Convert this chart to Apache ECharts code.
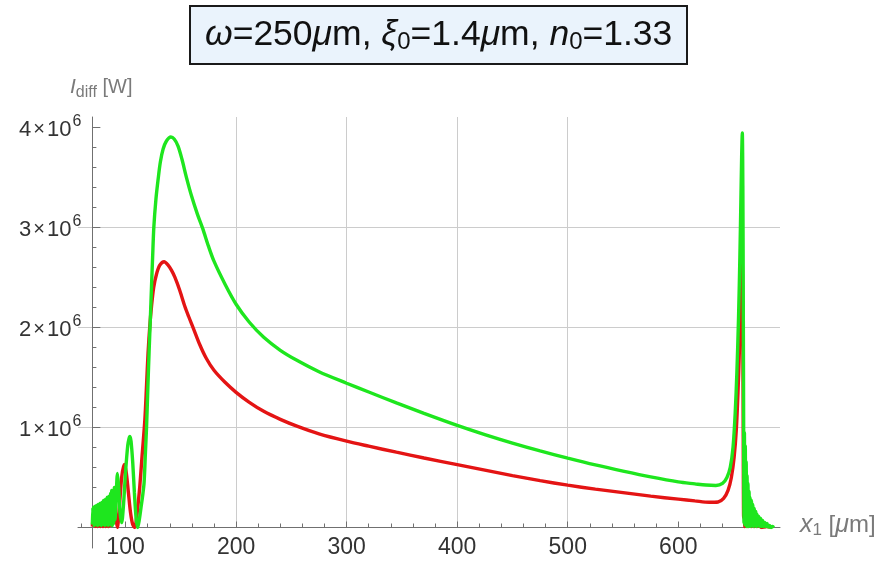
<!DOCTYPE html>
<html><head><meta charset="utf-8">
<script src="https://cdn.jsdelivr.net/npm/echarts@6/dist/echarts.min.js"></script>
<style>html,body{margin:0;padding:0;background:#fff}#c{width:882px;height:563px}</style>
</head><body><div id="c"></div>
<script>
// x1 in micrometres, I_diff in units of 10^6 W
const redX = [70.0,70.6,71.2,71.8,72.4,73.0,73.6,74.2,74.8,75.4,76.0,76.6,77.2,77.8,78.4,79.0,79.6,80.2,80.8,81.4,82.0,82.6,83.2,83.8,84.4,85.0,85.7,86.4,87.1,88.0,88.8,89.8,91.0,92.6,94.5,96.5,98.7,100.5,102.5,104.5,106.5,108.4,110.0,111.5,112.9,115.0,117.5,119.0,120.4,122.0,123.5,125.5,128.0,131.0,134.9,138.5,141.5,144.6,149.0,153.6,157.0,161.0,167.0,173.0,180.0,190.0,200.0,212.0,225.0,240.0,255.0,275.0,300.0,320.0,345.0,370.0,400.0,425.0,450.0,475.0,500.0,525.0,550.0,575.0,600.0,615.0,628.0,636.0,641.0,645.0,648.0,650.5,652.5,654.0,655.2,656.2,657.0,657.6,658.1,658.6,659.1,659.6,660.1,660.6,661.1,661.8,662.5,663.3,664.2,665.2,666.3,667.5,668.8,670.2,671.6,673.2,675.0,680.0,685.0];
const redY = [0.01,0.10,0.02,0.11,0.01,0.12,0.02,0.12,0.01,0.13,0.02,0.14,0.01,0.15,0.02,0.16,0.01,0.17,0.02,0.18,0.01,0.20,0.02,0.21,0.01,0.22,0.02,0.25,0.02,0.28,0.05,0.30,0.12,0.0,0.22,0.50,0.63,0.56,0.36,0.15,0.03,0.0,0.10,0.25,0.41,0.72,1.08,1.42,1.75,2.02,2.21,2.40,2.53,2.62,2.655,2.62,2.57,2.50,2.37,2.21,2.11,2.00,1.83,1.69,1.57,1.45,1.35,1.25,1.16,1.08,1.012,0.935,0.862,0.812,0.752,0.694,0.628,0.573,0.518,0.468,0.423,0.383,0.348,0.313,0.283,0.266,0.252,0.255,0.29,0.37,0.50,0.70,0.98,1.35,1.75,2.20,2.60,2.80,2.50,1.40,0.10,0.50,0.01,0.45,0.02,0.35,0.01,0.25,0.02,0.18,0.01,0.12,0.01,0.08,0.01,0.05,0.0,0.01,0.0];
const greenX = [70.0,70.4,70.8,71.2,71.6,72.0,72.4,72.8,73.2,73.6,74.0,74.4,74.8,75.2,75.6,76.0,76.4,76.8,77.2,77.6,78.0,78.4,78.8,79.2,79.6,80.0,80.4,80.8,81.2,81.6,82.0,82.4,82.8,83.2,83.6,84.0,84.4,84.8,85.2,85.6,86.0,86.5,87.0,87.5,88.0,88.6,89.2,89.9,90.6,91.5,92.7,93.8,95.0,96.5,98.0,100.0,102.0,103.2,104.0,105.0,106.5,108.0,109.5,111.0,112.5,114.0,115.5,116.8,118.0,119.0,120.2,121.3,122.5,123.5,124.5,125.6,127.5,129.5,131.5,134.0,137.0,141.0,144.0,147.5,151.0,155.0,160.0,165.0,170.0,175.0,180.0,190.0,200.0,212.0,225.0,240.0,255.0,275.0,300.0,320.0,345.0,370.0,400.0,425.0,450.0,475.0,500.0,525.0,550.0,575.0,600.0,615.0,625.0,634.0,640.0,644.0,647.0,649.5,651.5,653.0,654.5,655.7,656.6,657.3,657.9,658.4,658.8,659.1,659.4,659.8,660.2,660.6,661.0,661.4,661.8,662.2,662.6,663.0,663.5,664.0,664.5,665.0,665.6,666.2,666.8,667.4,668.0,668.7,669.4,670.1,670.8,671.5,672.2,673.0,673.8,674.6,675.4,676.3,677.2,678.2,679.2,680.3,681.4,682.5,683.6,685.0,686.5];
const greenY = [0.03,0.20,0.06,0.18,0.02,0.21,0.05,0.17,0.03,0.22,0.06,0.19,0.02,0.23,0.05,0.20,0.03,0.24,0.06,0.21,0.02,0.25,0.05,0.23,0.03,0.27,0.06,0.24,0.02,0.28,0.05,0.26,0.03,0.30,0.06,0.28,0.02,0.31,0.05,0.30,0.03,0.34,0.04,0.37,0.02,0.36,0.04,0.40,0.08,0.30,0.54,0.40,0.15,0.05,0.20,0.55,0.82,0.89,0.91,0.86,0.65,0.35,0.10,0.0,0.08,0.20,0.32,0.45,0.75,1.0,1.40,1.75,2.10,2.41,2.70,3.00,3.28,3.48,3.65,3.78,3.86,3.90,3.88,3.81,3.68,3.50,3.30,3.13,2.98,2.81,2.66,2.43,2.23,2.05,1.90,1.77,1.67,1.556,1.441,1.353,1.245,1.14,1.02,0.928,0.843,0.765,0.693,0.625,0.563,0.505,0.455,0.436,0.424,0.42,0.44,0.50,0.60,0.80,1.15,1.55,2.10,2.70,3.25,3.70,3.94,3.40,2.20,1.10,0.05,0.95,0.03,0.82,0.02,0.66,0.01,0.52,0.02,0.44,0.01,0.36,0.02,0.30,0.01,0.27,0.02,0.23,0.01,0.19,0.02,0.16,0.01,0.13,0.02,0.11,0.01,0.09,0.01,0.07,0.01,0.05,0.01,0.04,0.005,0.02,0.0,0.01,0.0];

const xMajorTicks = [100,200,300,400,500,600];
const xMinorTicks = [60,80,120,140,160,180,220,240,260,280,320,340,360,380,420,440,460,480,520,540,560,580,620,640,660,680];
const yMajorTicks = [0,1,2,3,4];
const yLabelTicks = [1,2,3,4];
const yMinorTicks = [0.2,0.4,0.6,0.8,1.2,1.4,1.6,1.8,2.2,2.4,2.6,2.8,3.2,3.4,3.6,3.8];

const X_MIN = 57, X_MAX = 692, Y_MIN = 0, Y_MAX = 4.1, Y_AXIS_AT = 70;
const GRID_LEFT = 78, GRID_RIGHT = 102, GRID_TOP = 117, GRID_BOTTOM = 35.5, AXIS_EXT_BOTTOM = 15;
const W = 882;
const yOffset = -(Y_AXIS_AT - X_MIN) * (W - GRID_LEFT - GRID_RIGHT) / (X_MAX - X_MIN);

const FONT = 'Liberation Sans, Arial, sans-serif';
const AXIS_COLOR = '#707070';
const GRID_COLOR = '#cccccc';
const NAME_COLOR = '#7a7a7a';

const chart = echarts.init(document.getElementById('c'), null, {renderer: 'canvas'});
const zipXY = (xs, ys) => xs.map((x, i) => [x, ys[i]]);

chart.setOption({
  animation: false,
  backgroundColor: '#ffffff',
  title: [
    {
      text: '{i|ω}=250{i|μ}m, {i|ξ}{s|0}=1.4{i|μ}m, {i|n}{s|0}=1.33',
      left: 190, top: 5,
      padding: [11, 15, 10, 15],
      backgroundColor: '#eaf3fc',
      borderColor: '#1a1a1a', borderWidth: 2,
      textStyle: {
        fontFamily: FONT, fontSize: 35.5, fontWeight: 'normal', color: '#111',
        rich: {
          i: {fontFamily: FONT, fontSize: 35.5, fontStyle: 'italic', color: '#111'},
          s: {fontFamily: FONT, fontSize: 24, color: '#111', padding: [14, 0, 0, 0]}
        }
      }
    },
    {
      text: '{i|I}{s|diff} {n|[W]}',
      left: 70, top: 74, padding: 0,
      textStyle: {
        fontFamily: FONT, fontSize: 20, fontWeight: 'normal', color: NAME_COLOR,
        rich: {
          i: {fontFamily: FONT, fontSize: 21, fontStyle: 'italic', color: NAME_COLOR},
          s: {fontFamily: FONT, fontSize: 16, color: NAME_COLOR, padding: [11, 0, 0, 0]},
          n: {fontFamily: FONT, fontSize: 20, color: NAME_COLOR}
        }
      }
    },
    {
      text: '{i|x}{s|1} [{i|μ}{n|m]}',
      left: 800, top: 511, padding: 0,
      textStyle: {
        fontFamily: FONT, fontSize: 24, fontWeight: 'normal', color: NAME_COLOR,
        rich: {
          i: {fontFamily: FONT, fontSize: 25, fontStyle: 'italic', color: NAME_COLOR},
          s: {fontFamily: FONT, fontSize: 17, color: NAME_COLOR, padding: [11, 0, 0, 0]},
          n: {fontFamily: FONT, fontSize: 24, color: NAME_COLOR}
        }
      }
    }
  ],
  grid: [
    {left: GRID_LEFT, right: GRID_RIGHT, top: GRID_TOP, bottom: GRID_BOTTOM, containLabel: false, outerBoundsMode: 'none'},
    {left: GRID_LEFT, right: GRID_RIGHT, top: GRID_TOP, bottom: AXIS_EXT_BOTTOM, containLabel: false, outerBoundsMode: 'none'}
  ],
  xAxis: [
    {
      type: 'value', gridIndex: 0, min: X_MIN, max: X_MAX, position: 'bottom',
      axisLine: {show: true, onZero: false, lineStyle: {color: AXIS_COLOR, width: 1}},
      axisTick: {show: true, inside: true, length: 6, customValues: xMajorTicks, lineStyle: {color: AXIS_COLOR}},
      axisLabel: {show: true, customValues: xMajorTicks, margin: 9, fontFamily: FONT, fontSize: 23, color: '#333'},
      splitLine: {show: true, showMinLine: false, showMaxLine: false, lineStyle: {color: GRID_COLOR, width: 1}}
    },
    {
      type: 'value', gridIndex: 0, min: X_MIN, max: X_MAX, position: 'bottom',
      axisLine: {show: false, onZero: false},
      axisTick: {show: true, inside: true, length: 4, customValues: xMinorTicks, lineStyle: {color: AXIS_COLOR}},
      axisLabel: {show: false},
      splitLine: {show: false}
    },
    {
      type: 'value', gridIndex: 1, min: X_MIN, max: X_MAX, show: false
    }
  ],
  yAxis: [
    {
      type: 'value', gridIndex: 0, min: Y_MIN, max: Y_MAX, position: 'left', offset: yOffset,
      axisLine: {show: false, onZero: false},
      axisTick: {show: true, inside: true, length: 8, customValues: yMajorTicks, lineStyle: {color: AXIS_COLOR}},
      axisLabel: {
        show: true, customValues: yLabelTicks, margin: 11,
        formatter: v => '{n|' + v + '}{x|×}{n|10}{e|6}',
        rich: {
          n: {fontFamily: FONT, fontSize: 22, color: '#333', verticalAlign: 'bottom'},
          x: {fontFamily: FONT, fontSize: 20, color: '#333', verticalAlign: 'bottom', padding: [0, 2, 1, 2]},
          e: {fontFamily: FONT, fontSize: 16, color: '#333', verticalAlign: 'bottom', padding: [0, 0, 11, 1]}
        }
      },
      splitLine: {show: true, showMinLine: false, showMaxLine: false, lineStyle: {color: GRID_COLOR, width: 1}}
    },
    {
      type: 'value', gridIndex: 0, min: Y_MIN, max: Y_MAX, position: 'left', offset: yOffset,
      axisLine: {show: false, onZero: false},
      axisTick: {show: true, inside: true, length: 4, customValues: yMinorTicks, lineStyle: {color: AXIS_COLOR}},
      axisLabel: {show: false},
      splitLine: {show: false}
    },
    {
      type: 'value', gridIndex: 1, min: 0, max: 1, position: 'left', offset: yOffset,
      axisLine: {show: true, onZero: false, lineStyle: {color: AXIS_COLOR, width: 1}},
      axisTick: {show: false}, axisLabel: {show: false}, splitLine: {show: false}
    }
  ],
  series: [
    {
      name: 'red', type: 'line', xAxisIndex: 0, yAxisIndex: 0,
      data: zipXY(redX, redY), showSymbol: false, symbol: 'none', smooth: 0.3,
      lineStyle: {color: '#e41414', width: 3.4}, itemStyle: {color: '#e41414'}, z: 3
    },
    {
      name: 'green', type: 'line', xAxisIndex: 0, yAxisIndex: 0,
      data: zipXY(greenX, greenY), showSymbol: false, symbol: 'none', smooth: 0.3,
      lineStyle: {color: '#1ee61e', width: 3.4}, itemStyle: {color: '#1ee61e'}, z: 4
    }
  ]
});
</script>
</body></html>
